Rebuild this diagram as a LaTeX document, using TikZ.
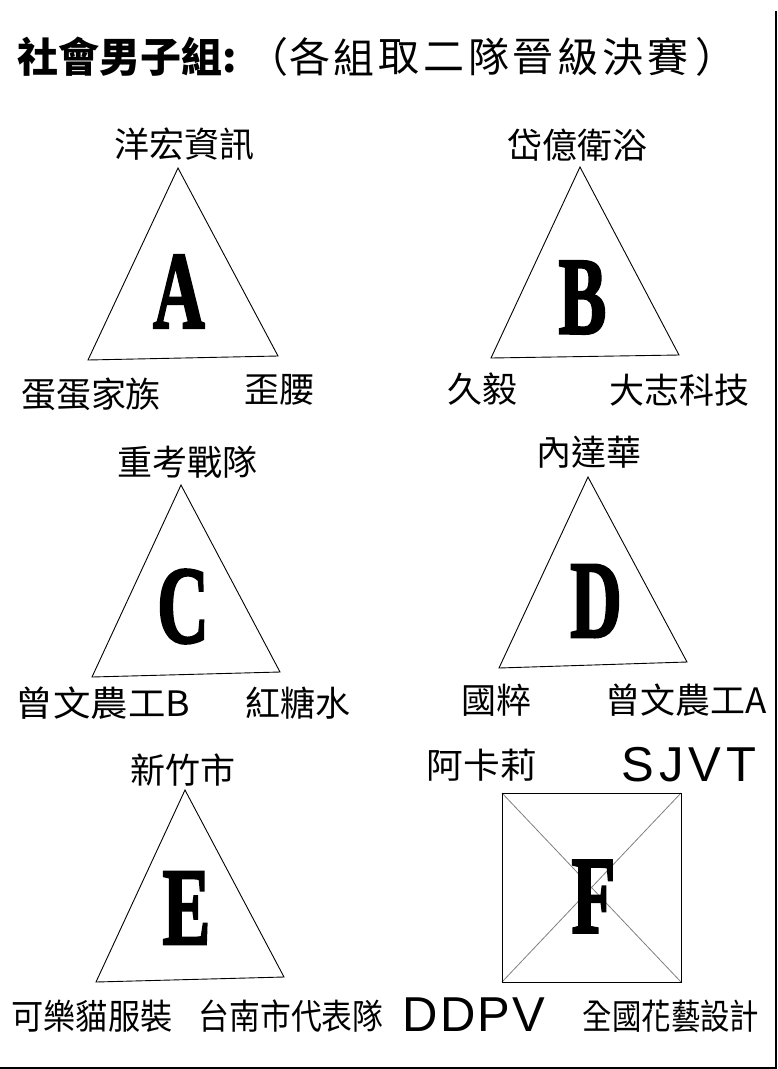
\documentclass[tikz,border=0pt]{standalone}
\usepackage{fontspec}
\newfontfamily\cjk{Noto Sans CJK TC}
\newfontfamily\grpfont{Liberation Serif}[BoldFeatures={FakeBold=2.5}]
\newfontfamily\latsans{Liberation Sans}
\tikzset{
  lbl/.style={inner sep=0pt, font=\cjk\fontsize{35}{40}\selectfont},
  titlech/.style={inner sep=0pt, font=\cjk\fontsize{41}{44}\selectfont},
  latlbl/.style={inner sep=0pt, font=\latsans\fontsize{49}{52}\selectfont},
  grp/.style={inner sep=0pt, font=\grpfont\bfseries\fontsize{110}{110}\selectfont},
  tri/.style={draw=black, line width=0.9pt},
  diag/.style={draw=black!50, line width=0.8pt},
}
\newcommand{\grpletter}[1]{\scalebox{0.65}[1]{#1}}
\begin{document}
\begin{tikzpicture}[x=1pt,y=-1pt]
\useasboundingbox (0,0) rectangle (777,1069);
\fill[white] (0,0) rectangle (777,1069);
% borders
\draw[line width=1.5pt] (776,11) -- (776,1069);
\draw[line width=1.5pt] (0,1068) -- (777,1068);
% title
\node[inner sep=0pt, anchor=west, font=\cjk\bfseries\fontsize{41}{44}\selectfont] (t1) at (17,57) {社會男子組:};
\node[titlech] (tp1) at (268,57) {（};
\foreach \ch [count=\i from 0] in {各,組,取,二,隊,晉,級,決,賽}
  \node[titlech] (tc\i) at (309.5+44.75*\i,57) {\ch};
\node[titlech] (tp2) at (716,57) {）};
% A
\draw[tri] (178,168) -- (88,360) -- (278,356) -- cycle;
\node[grp] (gA) at (179,291.5) {\grpletter{A}};
\node[lbl] (a1) at (184,144) {洋宏資訊};
\node[lbl] (a2) at (91,394) {蛋蛋家族};
\node[lbl] (a3) at (279,390) {歪腰};
% B
\draw[tri] (580,167) -- (491,358) -- (679,355) -- cycle;
\node[grp] (gB) at (582.5,297.5) {\grpletter{B}};
\node[lbl] (b1) at (577,145) {岱億衛浴};
\node[lbl] (b2) at (482,389) {久毅};
\node[lbl] (b3) at (679,390) {大志科技};
% C
\draw[tri] (181,485) -- (92,677) -- (280,672) -- cycle;
\node[grp] (gC) at (183,606.5) {\grpletter{C}};
\node[lbl] (c1) at (187,462) {重考戰隊};
\node[lbl] (c2) at (103,703) {\scalebox{1.07}[1]{曾文農工B}};
\node[lbl] (c3) at (298,703) {紅糖水};
% D
\draw[tri] (588,477) -- (499,668) -- (687,662) -- cycle;
\node[grp] (gD) at (596,601) {\grpletter{D}};
\node[lbl] (d1) at (589,452) {內達華};
\node[lbl] (d2) at (496,700) {國粹};
\node[lbl] (d3) at (686,700) {曾文農工A};
% E
\draw[tri] (185,790) -- (96,982) -- (284,977) -- cycle;
\node[grp] (gE) at (186.5,908) {\grpletter{E}};
\node[lbl] (e1) at (183,770) {新竹市};
\node[lbl] (e2) at (92,1016) {\scalebox{0.92}[1]{可樂貓服裝}};
\node[lbl] (e3) at (291,1016) {\scalebox{0.88}[1]{台南市代表隊}};
% F
\coordinate (fNW) at (502,793);
\coordinate (fNE) at (681,793);
\coordinate (fSE) at (681,982);
\coordinate (fSW) at (502,982);
\draw[diag] (fNW) -- (fSE);
\draw[diag] (fNE) -- (fSW);
\draw[tri] (fNW) -- (fNE) -- (fSE) -- (fSW) -- cycle;
\node[grp] (gF) at (593.5,896.5) {\grpletter{F}};
\node[lbl] (f1) at (482,765) {\scalebox{1.05}[1]{阿卡莉}};
\node[latlbl] (f2) at (689,765) {S\kern5pt J\kern5pt V\kern5pt T};
\node[latlbl] (f3) at (474,1015) {D\kern2pt D\kern2pt P\kern2pt V};
\node[lbl] (f4) at (671,1016) {\scalebox{0.84}[1]{全國花藝設計}};
\end{tikzpicture}
\end{document}
